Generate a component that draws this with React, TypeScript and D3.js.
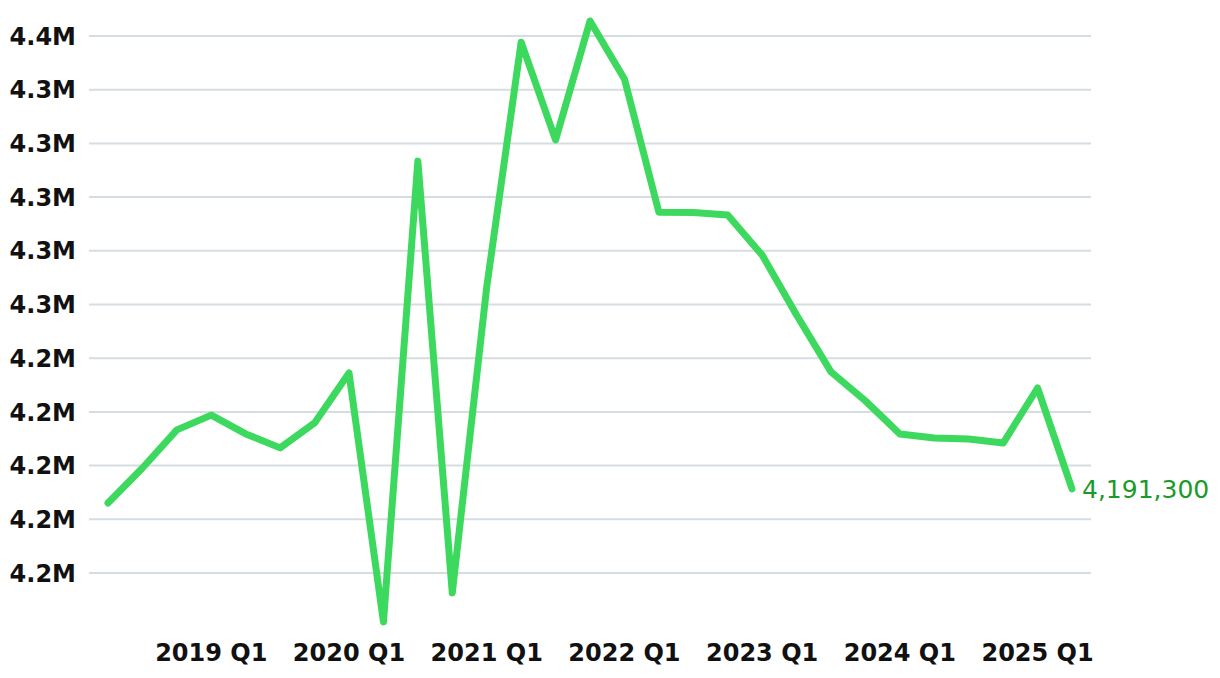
import React from "react";
import * as d3 from "d3";

const quarters = [
  "2018 Q2","2018 Q3","2018 Q4",
  "2019 Q1","2019 Q2","2019 Q3","2019 Q4",
  "2020 Q1","2020 Q2","2020 Q3","2020 Q4",
  "2021 Q1","2021 Q2","2021 Q3","2021 Q4",
  "2022 Q1","2022 Q2","2022 Q3","2022 Q4",
  "2023 Q1","2023 Q2","2023 Q3","2023 Q4",
  "2024 Q1","2024 Q2","2024 Q3","2024 Q4",
  "2025 Q1","2025 Q2",
];

const values = [
  4186100, 4199100, 4213300,
  4218800, 4211800, 4206600, 4215900,
  4234500, 4141800, 4313400, 4152600,
  4266500, 4357700, 4321300, 4365600,
  4344000, 4294400, 4294300, 4293300,
  4278400, 4256100, 4234900, 4224100,
  4211800, 4210300, 4209900, 4208400,
  4228900, 4191300,
];

const yTicks = [4160000, 4180000, 4200000, 4220000, 4240000, 4260000, 4280000, 4300000, 4320000, 4340000, 4360000];
const xTickLabels = ["2019 Q1", "2020 Q1", "2021 Q1", "2022 Q1", "2023 Q1", "2024 Q1", "2025 Q1"];

const W = 1220;
const H = 678;
const FONT = "'DejaVu Sans', 'Open Sans', sans-serif";

export default function App() {
  const x = d3.scalePoint<string>().domain(quarters).range([108, 1072]);
  const y = d3.scaleLinear().domain([4160000, 4360000]).range([573, 36]);
  const fmtY = (v: number) => (v / 1e6).toFixed(1) + "M";
  const line = d3
    .line<number>()
    .x((_, i) => x(quarters[i]) as number)
    .y((d) => y(d));
  const last = values[values.length - 1];
  const lastX = x(quarters[quarters.length - 1]) as number;

  return (
    <svg
      width={W}
      height={H}
      style={{ position: "absolute", left: 0, top: 0, background: "#fff" }}
    >
      {yTicks.map((t) => (
        <g key={t}>
          <line x1={89} x2={1091} y1={y(t)} y2={y(t)} stroke="#d5dde2" strokeWidth={2} />
          <text
            x={76}
            y={y(t)}
            dy="0.36em"
            textAnchor="end"
            fontFamily={FONT}
            fontWeight={700}
            fontSize={24}
            fill="#111"
          >
            {fmtY(t)}
          </text>
        </g>
      ))}
      {xTickLabels.map((q) => (
        <text
          key={q}
          x={x(q) as number}
          y={661}
          textAnchor="middle"
          fontFamily={FONT}
          fontWeight={700}
          fontSize={24}
          fill="#111"
        >
          {q}
        </text>
      ))}
      <path
        d={line(values) || ""}
        fill="none"
        stroke="#3dd95e"
        strokeWidth={7}
        strokeLinejoin="round"
        strokeLinecap="round"
      />
      <text
        x={lastX + 10}
        y={y(last)}
        dy="0.36em"
        fontFamily={FONT}
        fontWeight={400}
        fontSize={25}
        fill="#1a9a28"
      >
        {d3.format(",")(last)}
      </text>
    </svg>
  );
}
